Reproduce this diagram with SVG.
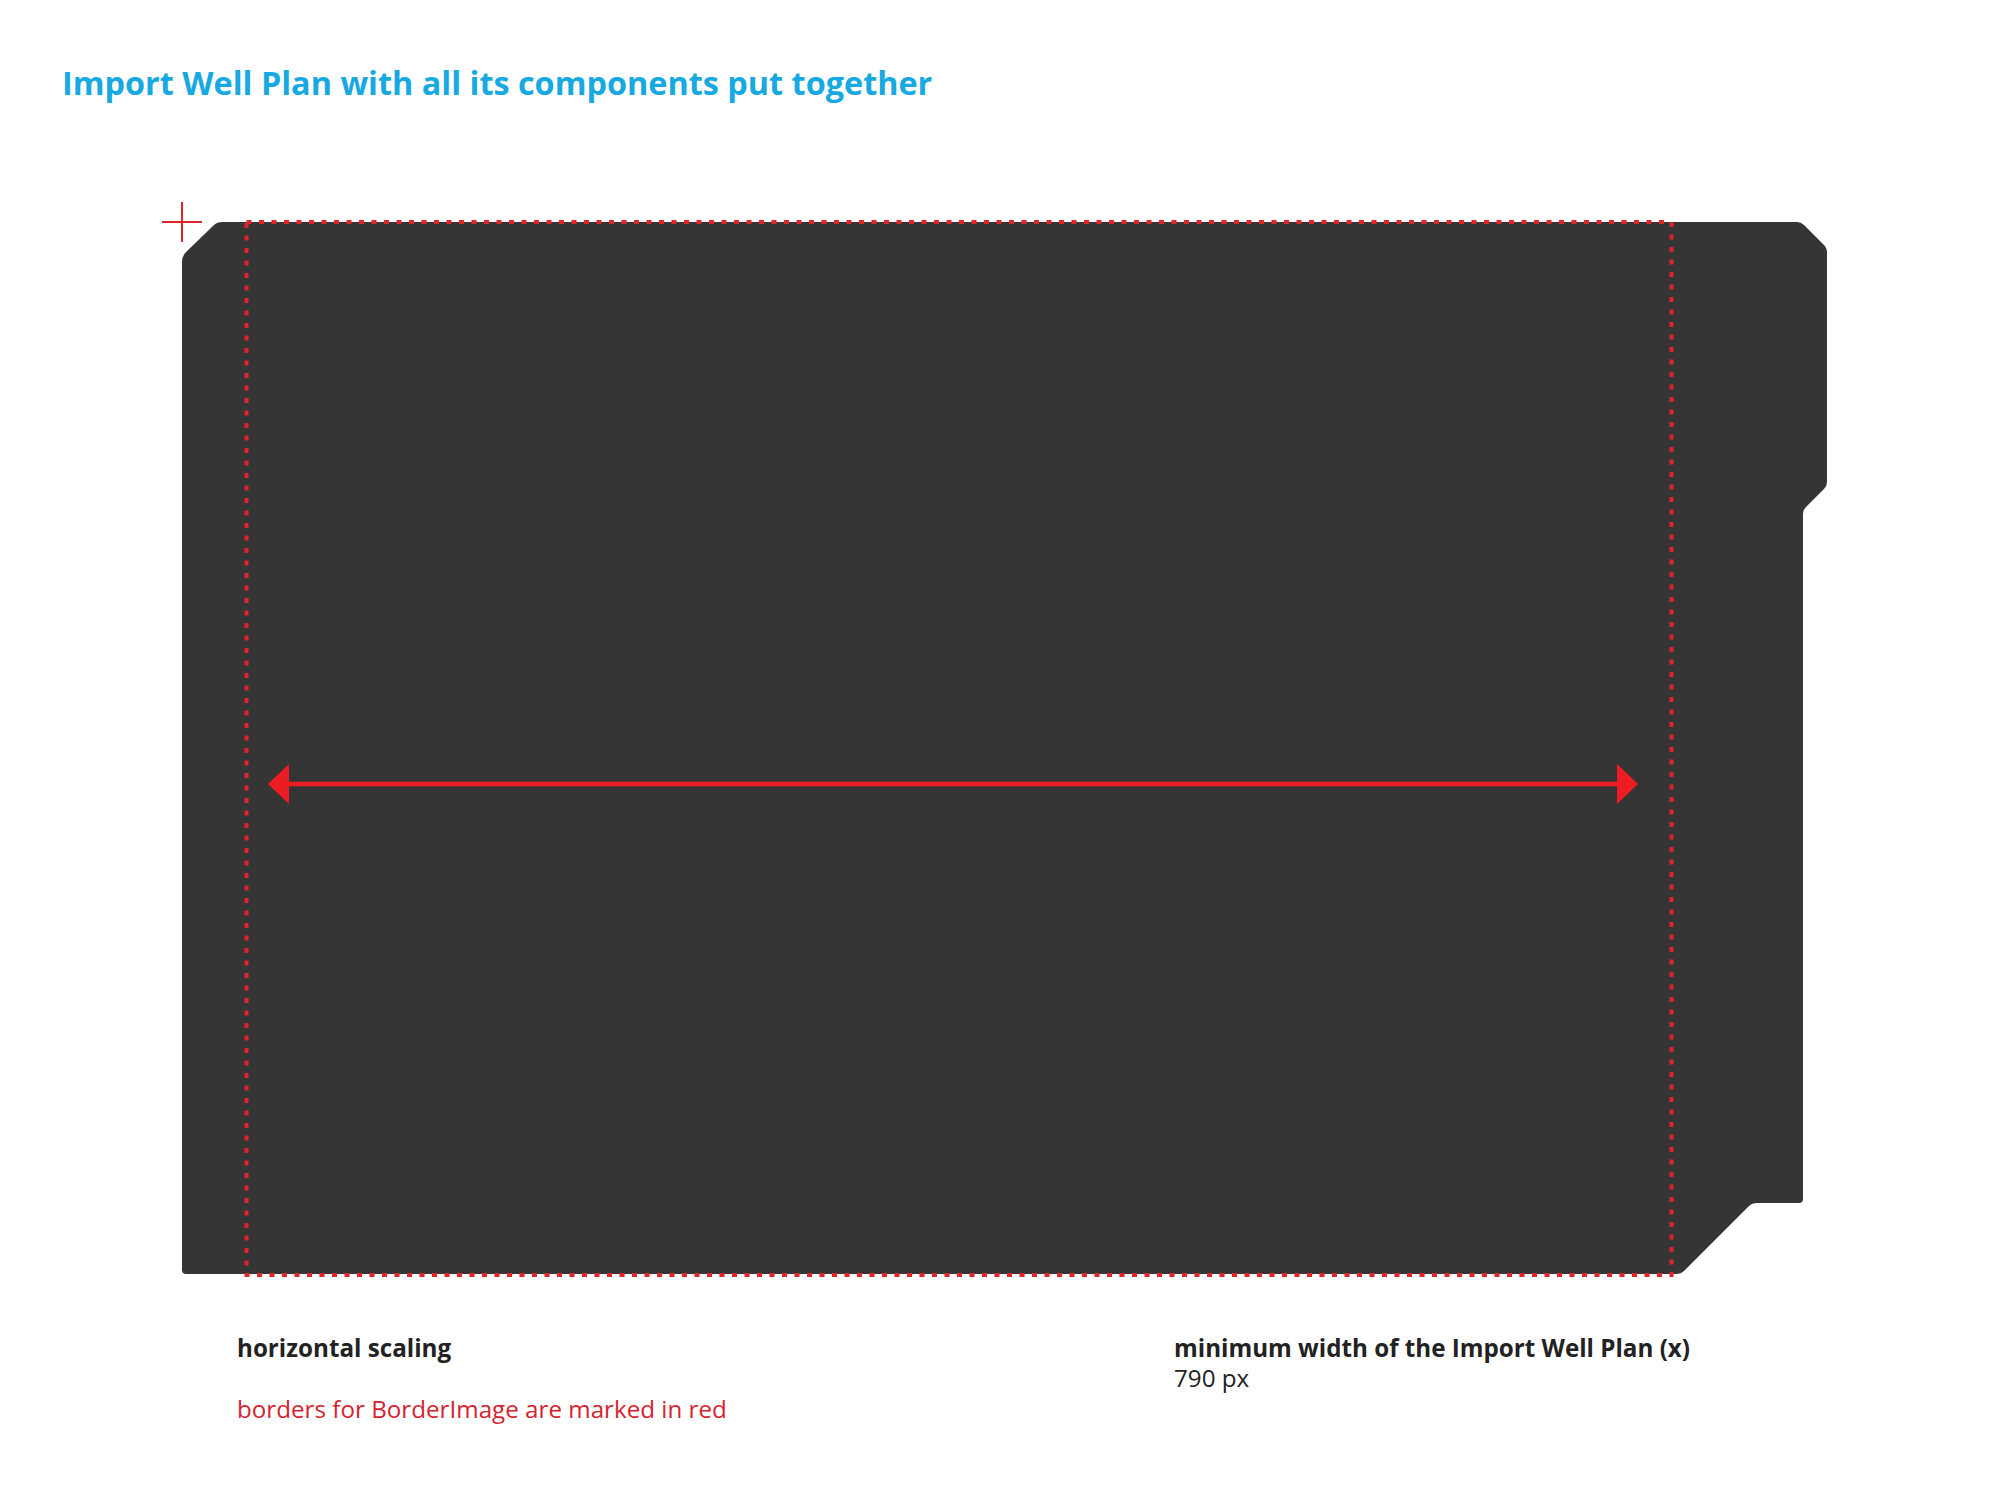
<svg xmlns="http://www.w3.org/2000/svg" width="2000" height="1492" viewBox="0 0 2000 1492">
  <style>
    .title { font-family: "Open Sans", "Noto Sans", sans-serif; font-weight: 700; fill: #17a9e1; }
    .label { font-family: "Open Sans", "Noto Sans", sans-serif; font-size: 24.2px; fill: #222222; }
    .bold { font-weight: 700; }
    .redtext { fill: #d5232f; }
    .border { fill: none; stroke: #e0242b; stroke-width: 4; stroke-dasharray: 5 7.5; }
    .cross { stroke: #e0242b; stroke-width: 2; fill: none; }
  </style>
  <defs>
    <marker id="ah" viewBox="0 0 21 40" refX="0" refY="20" markerWidth="21" markerHeight="40" markerUnits="userSpaceOnUse" orient="auto-start-reverse">
      <path d="M0,0 L21,20 L0,40 Z" fill="#ed1c24"/>
    </marker>
  </defs>
  <rect width="2000" height="1492" fill="#ffffff"/>
  <text class="title" x="62" y="95" font-size="32.4">Import Well Plan with all its components put together</text>
  <g id="panel">
    <path d="M186,1274 Q182,1274 182,1270 L182,262 Q182,256 186,252 L214,225 Q217,222 222,222 L1797,222 Q1801,222 1804,225 L1824,245 Q1827,248 1827,253 L1827,482 Q1827,486 1824,489 L1806,507 Q1803,510 1803,514 L1803,1199 Q1803,1203 1799,1203 L1757,1203 Q1752,1203 1749,1206 L1684,1271 Q1681,1274 1676,1274 Z" fill="#353535"/>
  </g>
  <g id="border-marks">
    <rect class="border" x="246.5" y="222" width="1425" height="1053"/>
    <path class="cross" d="M162,222 H202 M182,202 V242"/>
  </g>
  <g id="connectors">
    <line x1="289" y1="784" x2="1617" y2="784" stroke="#ed1c24" stroke-width="4.5" marker-start="url(#ah)" marker-end="url(#ah)"/>
  </g>
  <g id="notes">
    <text class="label bold" x="237" y="1357">horizontal scaling</text>
    <text class="label redtext" x="237" y="1418">borders for BorderImage are marked in red</text>
    <text class="label bold" x="1174" y="1357">minimum width of the Import Well Plan (x)</text>
    <text class="label" x="1174" y="1387">790 px</text>
  </g>
</svg>
